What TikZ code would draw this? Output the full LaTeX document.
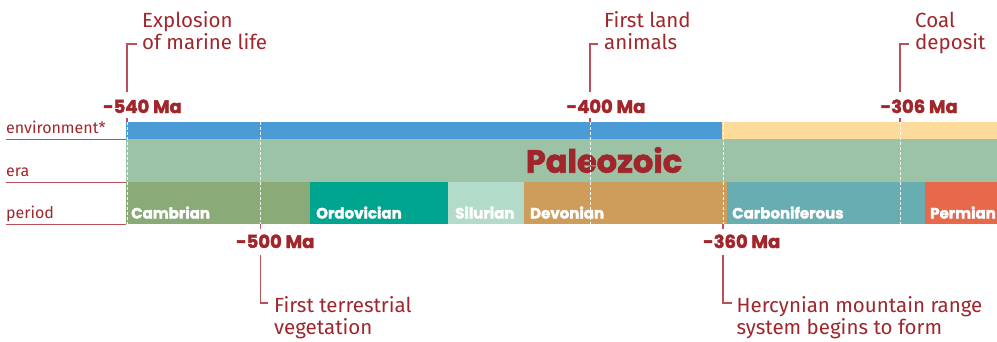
\documentclass[tikz,border=0pt]{standalone}
\usepackage{fontspec}
\setmainfont{Fira Sans}
\newfontfamily\pop{Poppins}[BoldFeatures={FakeBold=2}]
\definecolor{txtred}{RGB}{160,38,44}
\definecolor{linered}{RGB}{188,80,88}
\definecolor{envblue}{RGB}{74,155,214}
\definecolor{envyellow}{RGB}{253,219,154}
\definecolor{eragreen}{RGB}{157,195,167}
\definecolor{cambc}{RGB}{138,170,120}
\definecolor{ordoc}{RGB}{0,165,143}
\definecolor{siluc}{RGB}{179,219,201}
\definecolor{devoc}{RGB}{206,157,91}
\definecolor{carbc}{RGB}{104,173,178}
\definecolor{permc}{RGB}{232,104,75}
\begin{document}
\begin{tikzpicture}[x=1pt,y=-1pt,
  bandbox/.style={anchor=north west,inner sep=0,outer sep=0,draw=none,minimum height=#1},
  pername/.style={anchor=base west,inner sep=0,text=white,font=\pop\bfseries\fontsize{15}{18}\selectfont},
  rowname/.style={anchor=base west,inner sep=0,text=txtred,font=\fontsize{16}{19}\selectfont},
  rowline/.style={draw=linered,line width=1pt},
  malabel/.style={anchor=base west,inner sep=0,text=txtred,font=\pop\bfseries\fontsize{18}{21}\selectfont},
  evtext/.style={anchor=base west,inner sep=0,text=txtred,align=left,font=\fontsize{20.5}{22.5}\selectfont},
  tickline/.style={draw=linered,line width=1.1pt},
  wdash/.style={draw=white,line width=0.8pt,dash pattern=on 3pt off 2pt},
]
\useasboundingbox (0,0) rectangle (997,341);

% environment band
\node[bandbox=17pt,minimum width=596pt,fill=envblue] (envA) at (126,122) {};
\node[bandbox=17pt,minimum width=275pt,fill=envyellow] (envB) at (722,122) {};
% era band
\node[bandbox=43pt,minimum width=871pt,fill=eragreen] (era) at (126,139) {};
\node[text=txtred,font=\pop\bfseries\fontsize{32}{36}\selectfont,inner sep=0] (paleo) at (604,160) {Paleozoic};
% periods
\node[bandbox=42pt,minimum width=184pt,fill=cambc] (cam) at (126,182) {};
\node[bandbox=42pt,minimum width=138pt,fill=ordoc] (ord) at (310,182) {};
\node[bandbox=42pt,minimum width=76pt,fill=siluc] (sil) at (448,182) {};
\node[bandbox=42pt,minimum width=203pt,fill=devoc] (dev) at (524,182) {};
\node[bandbox=42pt,minimum width=198pt,fill=carbc] (car) at (727,182) {};
\node[bandbox=42pt,minimum width=72pt,fill=permc] (per) at (925,182) {};
\node[pername] (camt) at (131,218.5) {Cambrian};
\node[pername] (ordt) at (316,218.5) {Ordovician};
\node[pername] (silt) at (455,218.5) {Silurian};
\node[pername] (devt) at (530,218.5) {Devonian};
\node[pername] (cart) at (732,218.5) {Carboniferous};
\node[pername] (pert) at (930,218.5) {Permian};

% row names
\node[rowname] (rEnv) at (6,133) {environment*};
\node[rowname] (rEra) at (6,176) {era};
\node[rowname] (rPer) at (6,218) {period};
\coordinate (lEnv) at (6,139);
\coordinate (lEra) at (6,182);
\coordinate (lPer) at (6,224);
\draw[rowline] (lEnv) -- (lEnv -| envA.west);
\draw[rowline] (lEra) -- (lEra -| era.west);
\draw[rowline] (lPer) -- (lPer -| cam.west);

% tick positions
\coordinate (t540) at (127,0);
\coordinate (t500) at (260.5,0);
\coordinate (t400) at (590,0);
\coordinate (t360) at (723,0);
\coordinate (t306) at (900,0);

% white dashed lines through bands
\foreach \t in {t540,t500,t400,t360,t306}
  \draw[wdash] (\t |- envA.north) -- (\t |- cam.south);

% Ma labels
\node[malabel] (m540) at (103,113) {-540 Ma};
\node[malabel] (m400) at (566.5,113) {-400 Ma};
\node[malabel] (m306) at (880.5,113) {-306 Ma};
\node[malabel] (m500) at (236,248) {-500 Ma};
\node[malabel] (m360) at (703,248) {-360 Ma};

% event texts (anchor = baseline of last line)
\node[evtext] (e540) at (142,49.5) {Explosion\\of marine life};
\node[evtext] (e400) at (604,49.5) {First land\\animals};
\node[evtext] (e306) at (915,49.5) {Coal\\deposit};
\node[evtext] (e500) at (274,334.5) {First terrestrial\\vegetation};
\node[evtext] (e360) at (736.5,334.5) {Hercynian mountain range\\system begins to form};

% top ticks
\foreach \t/\h in {t540/137,t400/598,t306/909}{
  \draw[tickline] (\t |- 0,92) -- (\t |- 0,44) -- (\h,44);
  \draw[tickline] (\t |- 0,118) -- (\t |- envA.north);
}
% bottom ticks
\foreach \t/\h in {t500/268,t360/732}{
  \draw[tickline] (\t |- 0,255) -- (\t |- 0,303) -- (\h,303);
  \draw[tickline] (\t |- cam.south) -- (\t |- 0,229);
}
\end{tikzpicture}
\end{document}
